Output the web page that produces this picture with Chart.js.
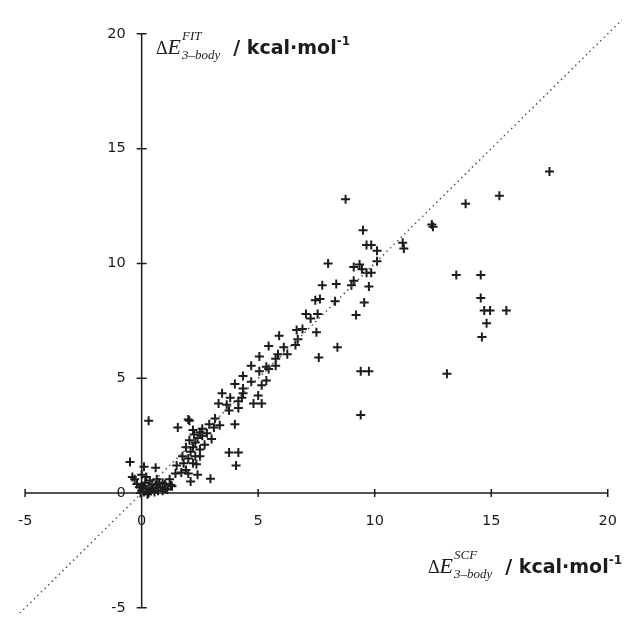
<!DOCTYPE html>
<html>
<head>
<meta charset="utf-8">
<script src="https://cdn.jsdelivr.net/npm/chart.js@4"></script>
<style>
  html, body { margin: 0; padding: 0; background: #fff; }
  #wrap { width: 628px; height: 620px; }
</style>
</head>
<body>
<div id="wrap"><canvas id="scatter" width="628" height="620"></canvas></div>
<script>
// three-body energies, SCF (x) vs fitted (y), kcal/mol
const scfEnergies = [
  17.5, 15.35, 13.9, 12.45, 12.5, 11.2, 11.25, 13.5, 14.55, 14.55,
  14.7, 14.95, 15.65, 14.8, 14.6, 13.1, 9.4, 9.75, 9.4,
  8.75, 9.5, 9.65, 9.85, 10.1, 10.1, 8.0, 9.1, 9.35, 9.45,
  9.85, 9.65, 7.75, 8.35, 9.0, 9.1, 9.75, 7.45, 7.65, 8.3,
  9.55, 7.05, 7.25, 7.55, 9.2, 6.9, 6.65, 7.5, 8.4, 7.6,
  5.9, 5.45, 6.1, 6.6, 6.7, 5.05, 5.85, 6.25, 5.75, 4.7,
  5.35, 5.75, 4.35, 5.05, 5.45, 4.0, 4.7, 5.15, 5.35, 4.35,
  3.45, 4.35, 5.0, 3.8, 4.3, 3.3, 3.65, 4.15, 4.8, 5.15,
  4.15, 3.75, 2.0, 3.15, 1.55, 2.2, 2.5, 3.1, 3.35, 4.0,
  0.3, 2.05,
  -0.5, 0.1, 0.6, 2.0, 2.35, 2.95, 3.75, 4.15, 4.05, 3.0,
  2.5, 0.9, 1.2, 1.45, 1.5, 1.75, 1.9, 2.05, 2.25,
  1.8, 2.0, 2.1, 2.2, 2.3, 2.4, 2.6, 2.7, 2.5, 2.3,
  2.6, 2.8, 2.9, 2.2, 1.9, 1.7, 2.1, 2.4, 1.3, 1.0,
  -0.3, -0.2, -0.1, 0.0, 0.1, 0.2, 0.3, 0.4, 0.5, 0.6,
  0.7, 0.8, 0.15, 0.35, 0.05, -0.05, 0.25, 0.55, 0.9, 1.1,
  -0.4, 0.45, 0.65, 0.2, 0.0, 0.3, 0.1, 0.75, 1.0, 1.25
];
const fitEnergies = [
  14.0, 12.95, 12.6, 11.7, 11.6, 10.9, 10.65, 9.5, 9.5, 8.5,
  7.95, 7.95, 7.95, 7.4, 6.8, 5.2, 5.3, 5.3, 3.4,
  12.8, 11.45, 10.8, 10.8, 10.55, 10.1, 10.0, 9.85, 9.95, 9.75,
  9.6, 9.6, 9.05, 9.1, 9.05, 9.25, 9.0, 8.4, 8.45, 8.35,
  8.3, 7.8, 7.6, 7.8, 7.75, 7.15, 7.1, 7.0, 6.35, 5.9,
  6.85, 6.4, 6.35, 6.45, 6.7, 5.95, 6.05, 6.05, 5.85, 5.55,
  5.5, 5.55, 5.1, 5.3, 5.4, 4.75, 4.85, 4.7, 4.9, 4.55,
  4.35, 4.35, 4.25, 4.15, 4.15, 3.9, 3.85, 4.0, 3.9, 3.9,
  3.7, 3.6, 3.2, 3.25, 2.85, 2.75, 2.65, 2.85, 2.95, 3.0,
  3.15, 3.15,
  1.35, 1.15, 1.1, 0.85, 1.25, 0.62, 1.77, 1.77, 1.2, 2.35,
  1.6, 0.45, 0.6, 0.85, 1.2, 1.6, 2.0, 2.3, 2.55,
  1.3, 1.5, 1.8, 2.0, 2.2, 2.4, 2.5, 2.1, 1.9, 1.6,
  2.8, 2.6, 3.0, 1.3, 1.0, 0.9, 0.5, 0.8, 0.3, 0.2,
  0.6, 0.4, 0.25, 0.1, 0.05, 0.15, 0.3, 0.1, 0.2, 0.35,
  0.1, 0.25, 0.45, 0.55, 0.3, 0.0, -0.05, 0.05, 0.1, 0.15,
  0.7, 0.4, 0.6, 0.7, 0.8, 0.0, 0.2, 0.45, 0.4, 0.35
];
const xTicks = [-5, 0, 5, 10, 15, 20];
const yTicks = [-5, 0, 5, 10, 15, 20];
const diagonal = [-6, 21];

const INK = '#1c1c1c';
const SERIF = "'Liberation Serif', 'DejaVu Serif', serif";
const SANS = "'DejaVu Sans', 'Liberation Sans', sans-serif";

// a piece is either plain text or a stacked superscript/subscript pair
function pieceWidth(ctx, p) {
    if (p.stack) {
        return Math.max.apply(null, p.stack.map(function(s) {
            ctx.font = s.font;
            return ctx.measureText(s.text).width;
        })) + (p.gap || 0);
    }
    ctx.font = p.font;
    return ctx.measureText(p.text).width + (p.gap || 0);
}

function drawRich(ctx, x, y, parts, alignRight) {
    ctx.textAlign = 'left';
    ctx.textBaseline = 'alphabetic';
    if (alignRight) {
        x -= parts.reduce(function(w, p) { return w + pieceWidth(ctx, p); }, 0);
    }
    parts.forEach(function(p) {
        const items = p.stack || [p];
        items.forEach(function(s) {
            ctx.font = s.font;
            ctx.fillText(s.text, x, y + (s.dy || 0));
        });
        x += pieceWidth(ctx, p);
    });
}

function energyLabel(tag) {
    return [
        { text: '\u0394', font: '18px ' + SERIF },
        { text: 'E', font: 'italic 22px ' + SERIF, gap: 1 },
        { stack: [
            { text: tag, font: 'italic 13px ' + SERIF, dy: -14 },
            { text: '3\u2013body', font: 'italic 13px ' + SERIF, dy: 5 }
        ], gap: 13 },
        { text: '/ kcal\u00b7mol', font: 'bold 19px ' + SANS },
        { text: '-1', font: 'bold 12px ' + SANS, dy: -9 }
    ];
}

// axes crossing at the origin, drawn from the chart's own scales
const crossAxes = {
    id: 'crossAxes',
    beforeDatasetsDraw: function(chart) {
        const ctx = chart.ctx;
        const xs = chart.scales.x, ys = chart.scales.y;
        const x0 = xs.getPixelForValue(0), y0 = ys.getPixelForValue(0);
        ctx.save();
        ctx.strokeStyle = INK;
        ctx.fillStyle = INK;
        ctx.lineWidth = 1.5;

        ctx.beginPath();
        ctx.moveTo(xs.getPixelForValue(xTicks[0]), y0);
        ctx.lineTo(xs.getPixelForValue(xTicks[xTicks.length - 1]), y0);
        ctx.moveTo(x0, ys.getPixelForValue(yTicks[0]));
        ctx.lineTo(x0, ys.getPixelForValue(yTicks[yTicks.length - 1]));
        xTicks.forEach(function(v) {
            const px = xs.getPixelForValue(v);
            ctx.moveTo(px, y0 - 4);
            ctx.lineTo(px, y0 + 4);
        });
        yTicks.forEach(function(v) {
            const py = ys.getPixelForValue(v);
            ctx.moveTo(x0 - 5, py);
            ctx.lineTo(x0 + 5, py);
        });
        ctx.stroke();

        ctx.font = '14.5px ' + SANS;
        ctx.textAlign = 'center';
        ctx.textBaseline = 'middle';
        xTicks.forEach(function(v) {
            ctx.fillText(String(v), xs.getPixelForValue(v), y0 + 28);
        });
        ctx.textAlign = 'right';
        yTicks.forEach(function(v) {
            ctx.fillText(String(v), x0 - 16, ys.getPixelForValue(v));
        });

        drawRich(ctx, 156, 54, energyLabel('FIT'), false);
        drawRich(ctx, 622, 573, energyLabel('SCF'), true);
        ctx.restore();
    }
};

const points = scfEnergies.map(function(x, i) {
    return { x: x, y: fitEnergies[i] };
});

new Chart(document.getElementById('scatter').getContext('2d'), {
    type: 'scatter',
    data: {
        datasets: [{
            type: 'line',
            data: diagonal.map(function(v) { return { x: v, y: v }; }),
            borderColor: '#555',
            borderWidth: 1.5,
            borderDash: [1.5, 3.5],
            pointRadius: 0,
            fill: false
        }, {
            data: points,
            pointStyle: 'cross',
            pointRadius: 4.5,
            borderWidth: 2,
            borderColor: INK,
            backgroundColor: INK
        }]
    },
    options: {
        responsive: false,
        animation: false,
        layout: { padding: 0 },
        scales: {
            x: { type: 'linear', display: false, min: -5.8, max: 20.59 },
            y: { type: 'linear', display: false, min: -5.245, max: 21.19 }
        },
        plugins: {
            legend: { display: false },
            tooltip: { enabled: false }
        }
    },
    plugins: [crossAxes]
});
</script>
</body>
</html>
